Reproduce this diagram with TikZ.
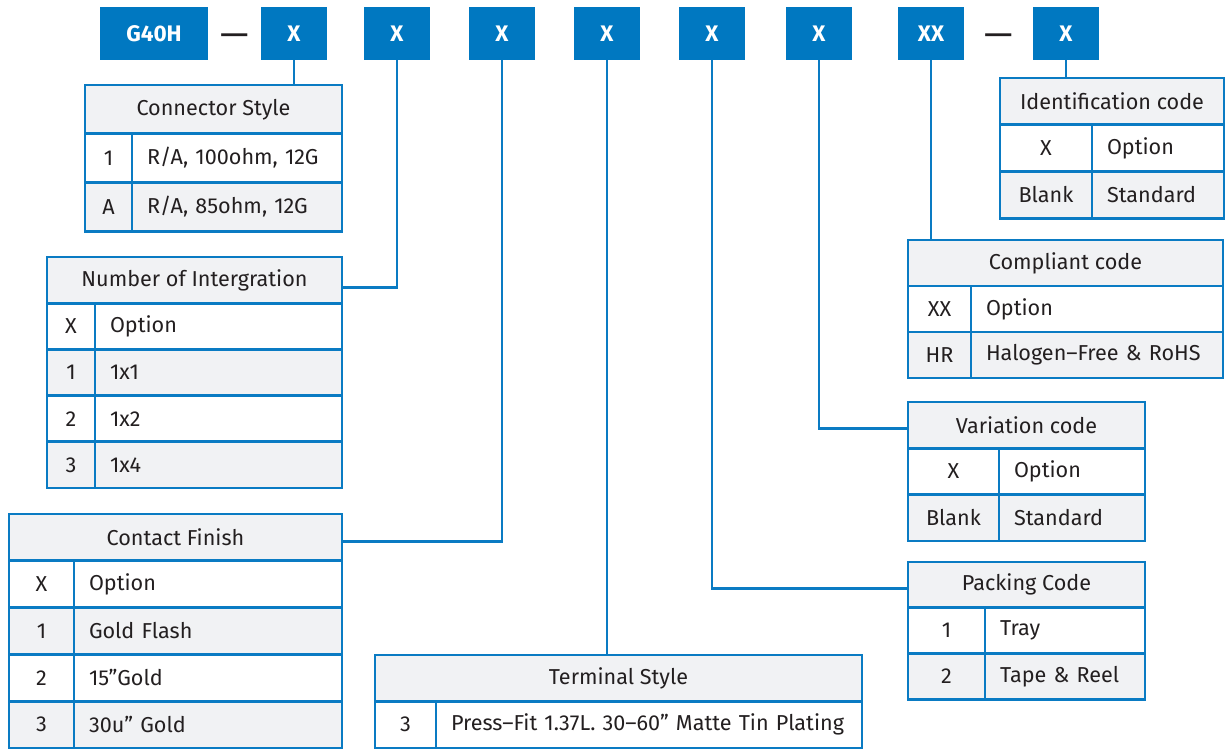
\documentclass[tikz,border=0pt]{standalone}
\usepackage{fontspec}
\setmainfont{Fira Sans}
\usetikzlibrary{calc}
\definecolor{codeblue}{HTML}{0078C1}
\definecolor{lineblue}{HTML}{0A7BC3}
\definecolor{cellgray}{HTML}{F1F2F4}
\definecolor{inkdark}{HTML}{231F20}
\tikzset{
	codebox/.style={fill=codeblue, text=white, font=\fontsize{22.5}{26}\selectfont\bfseries, minimum height=53, minimum width=66, inner sep=0},
	sepdash/.style={text=inkdark, font=\fontsize{36}{40}\selectfont, inner sep=0},
	cell/.style={draw=lineblue, line width=2.8pt, text=inkdark, font=\fontsize{21.6}{26}\selectfont, inner sep=0, outer sep=0, anchor=north west},
	link/.style={draw=lineblue, line width=2.8pt}
}
% #1 name, #2 left, #3 top, #4 width, #5 key width, #6 row height, #7 title, #8 rows
\newcommand\codetable[8]{%
	\node[cell, fill=cellgray, minimum width=#4, minimum height=#6] (#1) at (#2, #3) {#7};
	\pgfmathsetmacro\valw{#4-#5-30}
	\foreach \k/\v [count=\i] in {#8} {
		\pgfmathsetmacro\rowtop{#3+\i*#6}
		\ifodd\i \def\rowfill{white}\else \def\rowfill{cellgray}\fi
		\node[cell, fill=\rowfill, minimum width=#5, minimum height=#6] (#1-k\i) at (#2, \rowtop) {\k};
		\node[cell, fill=\rowfill, minimum width=#4-#5, minimum height=#6, inner xsep=15pt, text width=\valw pt, align=left] (#1-v\i) at (#1-k\i.north east) {\v};
	}
}

\begin{document}
\begin{tikzpicture}[x=1pt, y=-1pt]
		%%%%% START %%%%%
		\useasboundingbox (0, 0) rectangle (1226, 749);
		
		\node[codebox, minimum width=108] (g40h) at (154, 33.5) {G40H};
		\node[sepdash] (dash1) at (235, 40) {—};
		\node[codebox] (x1) at (294, 33.5) {X};
		\node[codebox] (x2) at (397, 33.5) {X};
		\node[codebox] (x3) at (502, 33.5) {X};
		\node[codebox] (x4) at (607, 33.5) {X};
		\node[codebox] (x5) at (712, 33.5) {X};
		\node[codebox] (x6) at (819, 33.5) {X};
		\node[codebox] (xx) at (931, 33.5) {XX};
		\node[sepdash] (dash2) at (998.5, 40) {—};
		\node[codebox] (xl) at (1066, 33.5) {X};
		
		\codetable{cs}{85}{85}{257}{47}{48.7}{Connector Style}{1/{R/A, 100ohm, 12G}, A/{R/A, 85ohm, 12G}}
		\codetable{ni}{47}{257}{295}{48}{46.2}{Number of Intergration}{X/Option, 1/1x1, 2/1x2, 3/1x4}
		\codetable{cf}{9}{514}{333}{65}{46.8}{Contact Finish}{X/Option, 1/Gold Flash, 2/15”Gold, 3/30u” Gold}
		\codetable{ts}{375}{655}{487}{61}{46.5}{Terminal Style}{3/Press–Fit 1.37L. 30–60” Matte Tin Plating}
		\codetable{ic}{1000}{78}{224}{92}{46.7}{Identification code}{X/Option, Blank/Standard}
		\codetable{cc}{908}{240}{315}{63}{46}{Compliant code}{XX/Option, HR/Halogen–Free \& RoHS}
		\codetable{vc}{908}{402}{237}{91}{46.3}{Variation code}{X/Option, Blank/Standard}
		\codetable{pc}{908}{562}{237}{77}{45.7}{Packing Code}{1/Tray, 2/Tape \& Reel}
		
		\draw[link] (x1.south) -- (x1.south |- cs.north);
		\draw[link] (x2.south) |- ([yshift=-7pt]ni.east);
		\draw[link] (x3.south) |- ([yshift=-4pt]cf.east);
		\draw[link] (x4.south) -- (x4.south |- ts.north);
		\draw[link] (x5.south) |- ([yshift=-3.5pt]pc.west);
		\draw[link] (x6.south) |- ([yshift=-3pt]vc.west);
		\draw[link] (xx.south) -- (xx.south |- cc.north);
		\draw[link] (xl.south) -- (xl.south |- ic.north);
		
		%%%%% END %%%%%
	\end{tikzpicture}
\end{document}
